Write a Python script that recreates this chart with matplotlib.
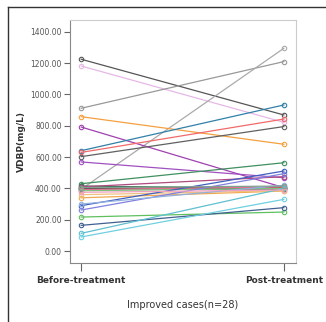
import matplotlib
matplotlib.use('Agg')
import matplotlib.pyplot as plt
from matplotlib.lines import Line2D

# Datos: VDBP antes y después del tratamiento (casos mejorados, n=28)
grupos = ['Before-treatment', 'Post-treatment']
antes = [1225, 1182, 912, 395, 858, 792, 641, 630, 603, 569,
         430, 415, 400, 398, 410, 392, 385, 340, 360, 290,
         262, 300, 217, 164, 113, 90, 375, 405]
despues = [869, 822, 1210, 1295, 682, 405, 933, 843, 795, 468,
           564, 400, 405, 395, 475, 410, 400, 383, 385, 511,
           494, 420, 249, 277, 400, 330, 390, 415]
colores = ['#555555', '#e6b8e6', '#999999', '#aaaaaa', '#f5a040', '#a040b0',
           '#3080a8', '#f06a6a', '#606060', '#a050c0', '#409060', '#307050',
           '#a03030', '#505050', '#b04a80', '#e07090', '#80c080', '#f0a850',
           '#f0c080', '#4060c0', '#8080e0', '#90b0e0', '#60c060', '#406090',
           '#60c0d0', '#70d0e0', '#f0a0c0', '#80a090']
yticks = [0, 200, 400, 600, 800, 1000, 1200, 1400]

fig = plt.figure(figsize=(3.26, 3.22), dpi=100)
ax = fig.add_axes([0.215, 0.183, 0.693, 0.755])

for a, d, c in zip(antes, despues, colores):
    ax.plot([0, 1], [a, d], color=c, lw=0.9, marker='o', ms=3.2,
            mfc='none', mec=c, mew=0.8)

ax.set_xlim(-0.055, 1.06)
ax.set_ylim(-77, 1476)
ax.set_xticks([0, 1])
ax.set_xticklabels(grupos, fontsize=6.5, fontweight='bold', color='#333333')
ax.set_yticks(yticks)
ax.set_yticklabels([f'{v:.2f}' for v in yticks], fontsize=5.5, color='#555555')
ax.tick_params(axis='y', length=4, width=0.8, color='#666666', pad=2)
ax.tick_params(axis='x', length=6, width=0.8, color='#666666', pad=3)
ax.set_ylabel('VDBP(mg/L)', fontsize=6.5, fontweight='bold', color='#333333', labelpad=3)
ax.set_xlabel('Improved cases(n=28)', fontsize=7, color='#333333', labelpad=11)

for lado in ['top', 'right']:
    ax.spines[lado].set_color('#cccccc')
for lado in ['left', 'bottom']:
    ax.spines[lado].set_color('#888888')

# Marco exterior parcial
fig.add_artist(Line2D([8 / 326, 1], [1 - 7 / 322, 1 - 7 / 322], color='#333333', lw=1.0))
fig.add_artist(Line2D([8 / 326, 8 / 326], [0, 1 - 7 / 322], color='#333333', lw=1.0))

plt.savefig('out.png', dpi=100)
